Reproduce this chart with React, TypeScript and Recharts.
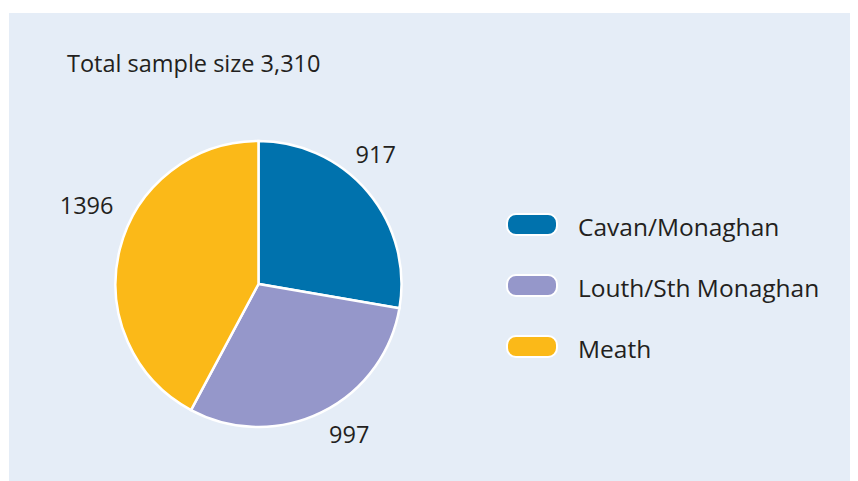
import React from "react";
import { PieChart, Pie, Cell, Legend } from "recharts";

const regions = ["Cavan/Monaghan", "Louth/Sth Monaghan", "Meath"];
const sampleSizes = [917, 997, 1396];
const colors = ["#0072AD", "#9597CA", "#FBB918"];
const title = "Total sample size 3,310";

const data = regions.map((name, i) => ({ name, value: sampleSizes[i] }));

// label placement styling (angle shift in degrees, radial distance from centre)
const labelAngleShift = [7.8, 5, -10.5];
const labelRadius = [175, 176, 189];

const FONT = "'Open Sans', sans-serif";
const RAD = Math.PI / 180;

const renderLabel = (props: any) => {
  const { cx, cy, midAngle, index, value } = props;
  const a = (midAngle + labelAngleShift[index]) * RAD;
  const r = labelRadius[index];
  const x = cx + r * Math.cos(a);
  const y = cy - r * Math.sin(a);
  return (
    <text
      x={x}
      y={y + 8.5}
      textAnchor="middle"
      fill="#231F20"
      fontSize={23.5}
      fontWeight={500}
      fontFamily={FONT}
    >
      {value}
    </text>
  );
};

const renderLegend = (props: any) => {
  const { payload } = props;
  return (
    <div>
      {payload.map((entry: any, i: number) => (
        <div
          key={i}
          style={{
            display: "flex",
            alignItems: "center",
            height: 61,
          }}
        >
          <div
            style={{
              width: 48,
              height: 19,
              borderRadius: 10,
              background: entry.color,
              border: "2px solid #fff",
              marginRight: 20,
            }}
          />
          <span
            style={{
              fontFamily: FONT,
              fontSize: 24.5,
              fontWeight: 500,
              color: "#231F20",
              whiteSpace: "nowrap",
              position: "relative",
              top: 2,
            }}
          >
            {entry.value}
          </span>
        </div>
      ))}
    </div>
  );
};

export default function App() {
  return (
    <div
      style={{
        marginLeft: 1,
        marginTop: 5,
        width: 849,
        height: 468,
        background: "#E5EDF7",
        position: "relative",
      }}
    >
      <div
        style={{
          position: "absolute",
          left: 58,
          top: 34,
          fontFamily: FONT,
          fontSize: 23.5,
          fontWeight: 500,
          color: "#231F20",
          whiteSpace: "nowrap",
        }}
      >
        {title}
      </div>
      <PieChart
        width={849}
        height={468}
        margin={{ top: 0, right: 0, bottom: 0, left: 0 }}
      >
        <Pie
          data={data}
          dataKey="value"
          nameKey="name"
          cx={249.5}
          cy={271}
          outerRadius={143}
          startAngle={90}
          endAngle={-270}
          stroke="#fff"
          strokeWidth={2.5}
          label={renderLabel}
          labelLine={false}
          isAnimationActive={false}
        >
          {data.map((d, i) => (
            <Cell key={d.name} fill={colors[i]} />
          ))}
        </Pie>
        <Legend
          content={renderLegend}
          layout="vertical"
          wrapperStyle={{ position: "absolute", left: 497, top: 181, width: 340 }}
        />
      </PieChart>
    </div>
  );
}
